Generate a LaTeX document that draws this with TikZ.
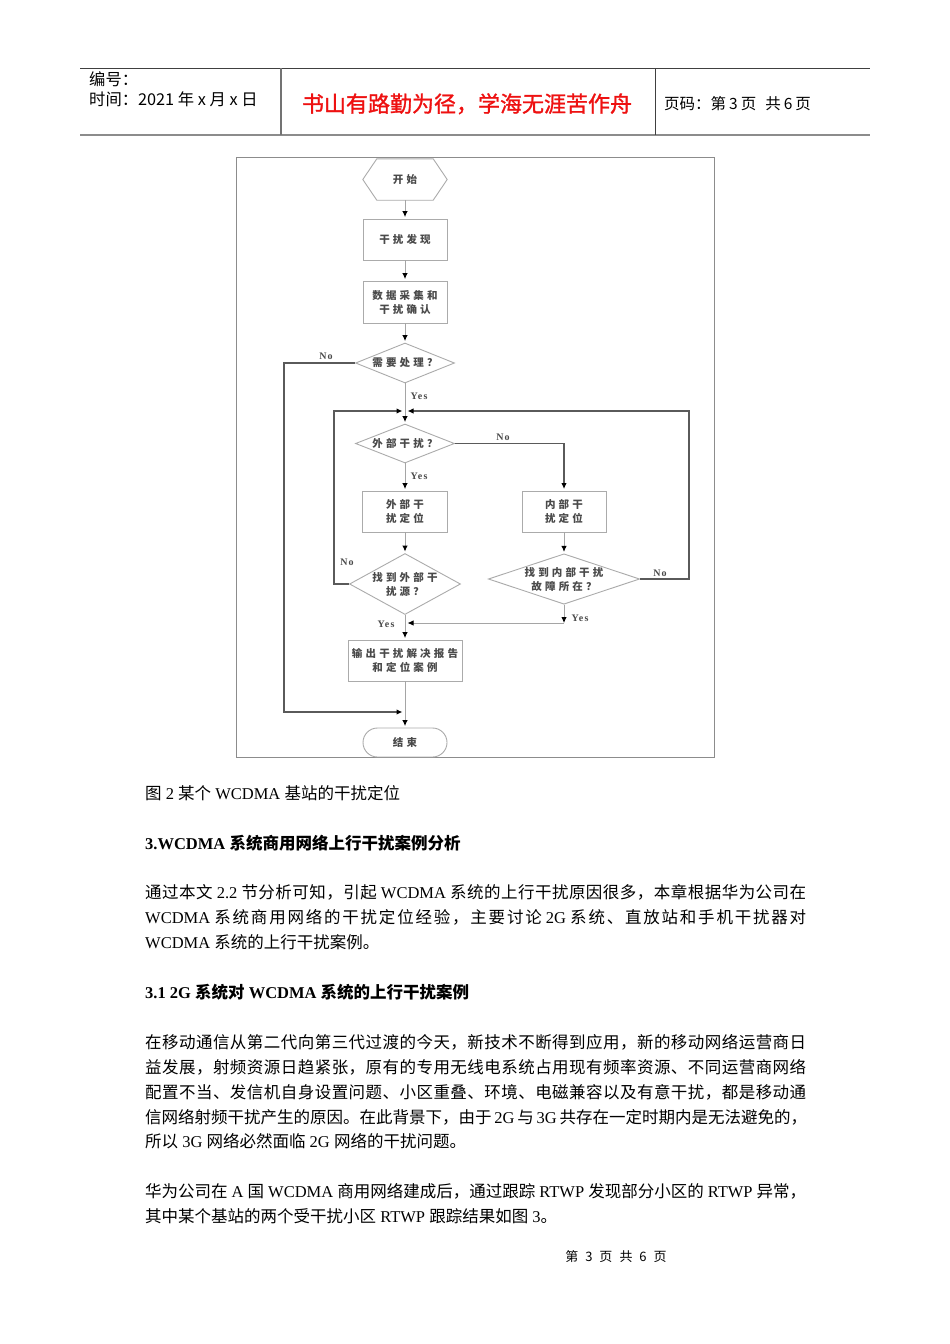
\documentclass[tikz,border=0pt]{standalone}
\usepackage{fontspec}
\setmainfont{Liberation Serif}
\newfontfamily\cjk{Noto Sans CJK SC}
\newfontfamily\cjkmed[FakeBold=1.2]{Noto Sans CJK SC}
\newfontfamily\cjkls[LetterSpace=30]{Noto Sans CJK SC}
\newfontfamily\lblfont[LetterSpace=12]{Liberation Serif}
\usetikzlibrary{shapes.geometric,shapes.misc,arrows.meta}
\newcount\cjkcc
\cjkcc="4E00
\loop
  \XeTeXcharclass\cjkcc=1
  \advance\cjkcc by 1
\ifnum\cjkcc<"A000 \repeat
\cjkcc="3000
\loop
  \XeTeXcharclass\cjkcc=1
  \advance\cjkcc by 1
\ifnum\cjkcc<"3040 \repeat
\cjkcc="FF00
\loop
  \XeTeXcharclass\cjkcc=1
  \advance\cjkcc by 1
\ifnum\cjkcc<"FF60 \repeat
\XeTeXinterchartoks 1 1 = {\hskip 0pt plus 1fil\relax}
\newcommand\C[1]{{\cjk #1}}
\newcommand\jline[1]{\makebox[661pt][s]{\XeTeXinterchartokenstate=1 #1}}
\newcommand\fcfont{\cjkls\bfseries\fontsize{10.5}{14}\selectfont}
\newcommand\bodyfont{\fontsize{16.5}{20}\selectfont}
\definecolor{boxgray}{HTML}{ABABAB}
\definecolor{linegray}{HTML}{A5A5A5}
\definecolor{backgray}{HTML}{5A5A5A}
\definecolor{txtgray}{HTML}{4A4A4A}
\definecolor{mottored}{HTML}{EE1111}
\definecolor{framegray}{HTML}{8C8C8C}
\begin{document}
\begin{tikzpicture}[x=1pt,y=-1pt,
  fbox/.style={draw=boxgray, line width=0.9pt, rectangle, inner sep=0pt, align=center, font=\fcfont, text=txtgray},
  fdia/.style={draw=boxgray, line width=0.9pt, diamond, inner sep=0pt, align=center, font=\fcfont, text=txtgray},
  fhex/.style={rectangle, minimum width=84pt, minimum height=41pt, inner sep=0pt, font=\fcfont, text=txtgray},
  hexline/.style={draw=boxgray, line width=0.9pt},
  fstad/.style={draw=boxgray, line width=0.9pt, rounded rectangle, minimum width=84pt, minimum height=29pt, inner sep=0pt, font=\fcfont, text=txtgray},
  flowline/.style={draw=linegray, line width=0.9pt, -{Latex[length=6pt,width=5.5pt,color=black]}, shorten >=1.5pt},
  backline/.style={draw=backgray, line width=1.3pt, -{Latex[length=6pt,width=5.5pt,color=black]}, shorten >=2.5pt},
  lbl/.style={font=\lblfont\bfseries\fontsize{10}{12}\selectfont, text=txtgray, inner sep=0pt},
  body/.style={anchor=base west, inner sep=0pt, font=\bodyfont},
  hd/.style={anchor=base west, inner sep=0pt, font=\cjk\fontsize{16.3}{18}\selectfont}
]
\useasboundingbox[fill=white] (0,0) rectangle (950,1344);

% header
\draw[draw=black!75, line width=1pt] (80,68) -- (870,68);
\draw[draw=black!45, line width=2pt] (80,135) -- (870,135);
\draw[draw=black!55, line width=1.4pt] (281,68) -- (281,135);
\draw[draw=black!75, line width=1pt] (655,68) -- (655,135);
\node[hd] (hnum) at (89,85) {编号：};
\node[hd] (htime) at (89,105) {时间：2021 年 x 月 x 日};
\node[anchor=base, inner sep=0pt, font=\cjkmed\fontsize{22}{26}\selectfont, text=mottored] (motto) at (467,112) {书山有路勤为径，学海无涯苦作舟};
\node[hd, font=\cjk\fontsize{15.5}{18}\selectfont] (hpage) at (664,109) {页码：第\hspace{3pt}3\hspace{3pt}页\hspace{9pt}共\hspace{3pt}6\hspace{3pt}页};

% flowchart frame
\draw[draw=framegray, line width=1pt] (236,157) rectangle (714,757);

% nodes
\node[fhex] (start) at (405,179.5) {开始};
\draw[hexline] (start.west) -- ([xshift=14pt]start.north west) -- ([xshift=-14pt]start.north east) -- (start.east) -- ([xshift=-14pt]start.south east) -- ([xshift=14pt]start.south west) -- cycle;
\node[fbox, minimum width=84pt, minimum height=41pt] (disc) at (405,239.5) {干扰发现};
\node[fbox, minimum width=84pt, minimum height=42pt] (coll) at (405,302) {数据采集和\\干扰确认};
\node[fdia, minimum width=99pt, minimum height=40pt, aspect=2.5] (need) at (405,363) {需要处理？};
\node[fdia, minimum width=99pt, minimum height=39pt, aspect=2.5] (ext) at (405,443.5) {外部干扰？};
\node[fbox, minimum width=85pt, minimum height=41pt] (extloc) at (405,511.5) {外部干\\扰定位};
\node[fbox, minimum width=84pt, minimum height=41pt] (intloc) at (564,511.5) {内部干\\扰定位};
\node[fdia, minimum width=111pt, minimum height=61pt, aspect=1.8] (findext) at (405,584) {找到外部干\\扰源？};
\node[fdia, minimum width=150pt, minimum height=50pt, aspect=3] (findint) at (564,579) {找到内部干扰\\故障所在？};
\node[fbox, minimum width=114pt, minimum height=41pt] (out) at (405,660.5) {输出干扰解决报告\\和定位案例};
\node[fstad] (stop) at (405,742.5) {结束};

\coordinate (j1) at (405,411);
\coordinate (j3) at (405,623);
\coordinate (j3r) at (564,623);
\coordinate (j4) at (405,712);
\coordinate (rc) at (689,411);
\coordinate (lc) at (334,411);
\coordinate (oc) at (284,712);

% connectors
\draw[flowline] (start) -- (disc);
\draw[flowline] (disc) -- (coll);
\draw[flowline] (coll) -- (need);
\draw[flowline] (need) -- (ext);
\draw[backline, shorten >=1.5pt] (ext.east) -| (intloc.north);
\draw[flowline] (ext) -- (extloc);
\draw[flowline] (extloc) -- (findext);
\draw[flowline] (intloc) -- (findint);
\draw[flowline] (findext) -- (out);
\draw[flowline, shorten >=0pt] (findint.south) -- (j3r);
\draw[flowline, shorten >=2.5pt] (j3r) -- (j3);
\draw[backline] (findint.east) -| (rc) -- (j1);
\draw[backline] (findext.west) -| (lc) -- (j1);
\draw[backline] (need.west) -| (oc) -- (j4);
\draw[flowline] (out) -- (stop);

% labels
\node[lbl] (yes1) at (419,396) {Yes};
\node[lbl] (no1) at (326,356) {No};
\node[lbl] (no2) at (503,437) {No};
\node[lbl] (yes2) at (419,476) {Yes};
\node[lbl] (no3) at (347,562) {No};
\node[lbl] (no4) at (660,573) {No};
\node[lbl] (yes3) at (386,624) {Yes};
\node[lbl] (yes4) at (580,618) {Yes};

% body text
\node[body] (cap) at (145,799) {\C{图} 2 \C{某个} WCDMA \C{基站的干扰定位}};
\node[body] (h3) at (145,849) {\textbf{3.WCDMA} \C{\bfseries 系统商用网络上行干扰案例分析}};
\node[body] (p1a) at (145,898) {\jline{\C{通过本文} 2.2 \C{节分析可知，引起} WCDMA \C{系统的上行干扰原因很多，本章根据华为公司在}}};
\node[body] (p1b) at (145,923) {\jline{WCDMA \C{系统商用网络的干扰定位经验，主要讨论} 2G \C{系统、直放站和手机干扰器对}}};
\node[body] (p1c) at (145,948) {WCDMA \C{系统的上行干扰案例。}};
\node[body] (h31) at (145,998) {\textbf{3.1 2G} \C{\bfseries 系统对} \textbf{WCDMA} \C{\bfseries 系统的上行干扰案例}};
\node[body] (p2a) at (145,1048) {\jline{\C{在移动通信从第二代向第三代过渡的今天，新技术不断得到应用，新的移动网络运营商日}}};
\node[body] (p2b) at (145,1073) {\jline{\C{益发展，射频资源日趋紧张，原有的专用无线电系统占用现有频率资源、不同运营商网络}}};
\node[body] (p2c) at (145,1098) {\jline{\C{配置不当、发信机自身设置问题、小区重叠、环境、电磁兼容以及有意干扰，都是移动通}}};
\node[body] (p2d) at (145,1123) {\jline{\C{信网络射频干扰产生的原因。在此背景下，由于} 2G \C{与} 3G \C{共存在一定时期内是无法避免的，}}};
\node[body] (p2e) at (145,1147) {\C{所以} 3G \C{网络必然面临} 2G \C{网络的干扰问题。}};
\node[body] (p3a) at (145,1197) {\jline{\C{华为公司在} A \C{国} WCDMA \C{商用网络建成后，通过跟踪} RTWP \C{发现部分小区的} RTWP \C{异常，}}};
\node[body] (p3b) at (145,1222) {\C{其中某个基站的两个受干扰小区} RTWP \C{跟踪结果如图} 3\C{。}};

% footer
\node[anchor=base, inner sep=0pt, font=\cjk\fontsize{13}{15}\selectfont] (foot) at (616,1261) {第\hspace{7pt}3\hspace{7pt}页\hspace{7pt}共\hspace{7pt}6\hspace{7pt}页};
\end{tikzpicture}
\end{document}
